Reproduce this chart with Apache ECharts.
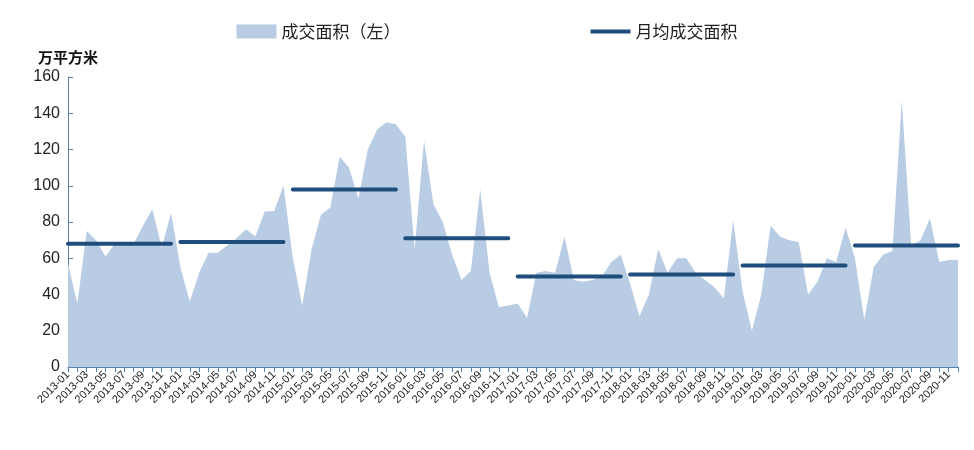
<!DOCTYPE html>
<html>
<head>
<meta charset="utf-8">
<script src="https://cdn.jsdelivr.net/npm/echarts@6/dist/echarts.min.js"></script>
<style>html,body{margin:0;background:#fff}#c{width:974px;height:450px}</style>
</head>
<body>
<div id="c"></div>
<script>
const years = [2013, 2014, 2015, 2016, 2017, 2018, 2019, 2020];
const monthly = [
  57, 35, 75, 70, 61, 68, 67, 68, 78, 87, 66, 85,
  55, 36, 52, 63, 63, 67, 71, 76, 72, 86, 86, 100,
  60, 34, 65, 84, 88, 116, 110, 93, 120, 131, 135, 134,
  127, 65, 125, 90, 80, 62, 48, 53, 98, 52, 33, 34,
  35, 27, 52, 53, 52, 72, 48, 47, 48, 50, 58, 62,
  46, 28, 40, 65, 52, 60, 60, 52, 48, 44, 38, 81,
  42, 20, 40, 78, 72, 70, 69, 40, 47, 60, 58, 77,
  60, 26, 55, 62, 64, 147, 67, 70, 82, 58, 59, 59
];
const yearAvg = [68, 69, 98, 71, 50, 51, 56, 67];

const months = [];
years.forEach(y => { for (let m = 1; m <= 12; m++) months.push(y + '-' + String(m).padStart(2, '0')); });

// 年均线：奇偶年分成两个系列，避免相邻年份连在一起
function avgSeries(parity) {
  const d = months.map(() => null);
  yearAvg.forEach((v, i) => {
    if (i % 2 !== parity) return;
    for (let k = 0; k < 12; k++) d[i * 12 + k] = v;
  });
  return {
    name: '月均成交面积', type: 'line', data: d, symbol: 'none',
    lineStyle: { color: '#1f4e7d', width: 4, cap: 'round' },
    itemStyle: { color: '#1f4e7d' },
    label: {
      show: true, position: 'top', distance: 10, color: '#111', fontSize: 17,
      fontFamily: 'Arial', offset: [5, 0],
      formatter: p => (p.dataIndex % 12 === 5 ? p.value : '')
    },
    z: 3
  };
}

const chart = echarts.init(document.getElementById('c'));
chart.setOption({
  animation: false,
  textStyle: { fontFamily: 'Noto Sans CJK SC' },
  legend: {
    top: 18, left: 'center', itemGap: 190, itemWidth: 40, itemHeight: 14,
    textStyle: { fontSize: 17, color: '#222' },
    data: [
      { name: '成交面积（左）', icon: 'rect', itemStyle: { color: '#b8cce4' } },
      { name: '月均成交面积', icon: 'path://M0,0L40,0L40,4L0,4Z', itemStyle: { color: '#1f4e7d' } }
    ]
  },
  grid: { left: 68, right: 16, top: 77, bottom: 83 },
  xAxis: {
    type: 'category', data: months, boundaryGap: false,
    axisLine: { lineStyle: { color: '#5a7fa8' } },
    axisTick: { interval: 0, lineStyle: { color: '#5a7fa8' } },
    axisLabel: { interval: 1, rotate: 45, color: '#222', fontSize: 11, fontFamily: 'Arial', margin: 6 }
  },
  yAxis: {
    type: 'value', min: 0, max: 160, interval: 20,
    name: '万平方米', nameLocation: 'end', nameGap: 12,
    nameTextStyle: { color: '#111', fontSize: 15, fontWeight: 'bold', align: 'right', padding: [0, -30, 0, 0] },
    axisLine: { show: true, lineStyle: { color: '#5a7fa8' } },
    axisTick: { show: true, inside: true, lineStyle: { color: '#5a7fa8' } },
    splitLine: { show: false },
    axisLabel: { color: '#222', fontSize: 16, fontFamily: 'Arial' }
  },
  series: [
    {
      name: '成交面积（左）', type: 'line', data: monthly, symbol: 'none',
      lineStyle: { width: 0 }, itemStyle: { color: '#b8cce4' },
      areaStyle: { color: '#b8cce4', opacity: 1 }, z: 1
    },
    avgSeries(0),
    avgSeries(1)
  ]
});
</script>
</body>
</html>
